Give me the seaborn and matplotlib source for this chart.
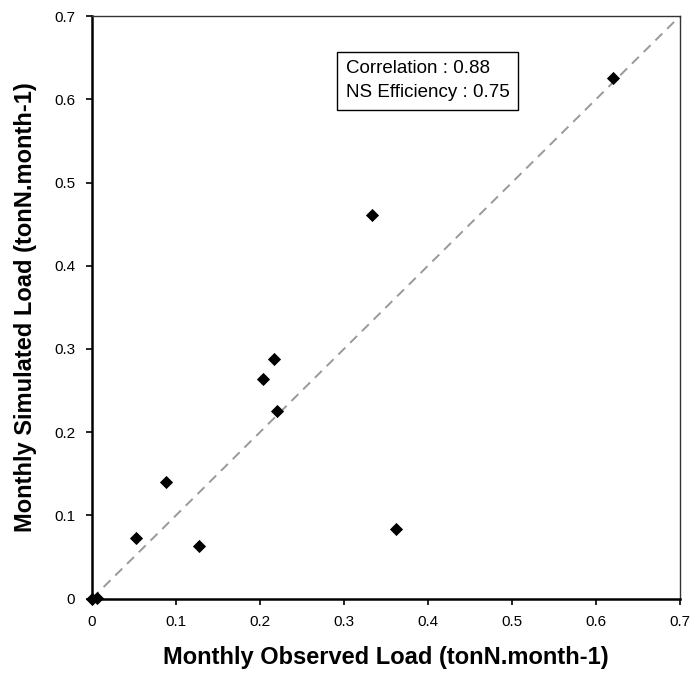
import matplotlib
matplotlib.use("Agg")
import matplotlib.pyplot as plt
import seaborn as sns
import pandas as pd

observed = [0.0, 0.0065, 0.0525, 0.0885, 0.128, 0.2037, 0.2164, 0.2203, 0.3336, 0.3625, 0.620]
simulated = [0.0, 0.0005, 0.0726, 0.140, 0.0637, 0.264, 0.2877, 0.226, 0.461, 0.0838, 0.625]
ticks = [0, 0.1, 0.2, 0.3, 0.4, 0.5, 0.6, 0.7]
tick_labels = ["0", "0.1", "0.2", "0.3", "0.4", "0.5", "0.6", "0.7"]

df = pd.DataFrame({"obs": observed, "sim": simulated})

sns.set_style("white")
plt.rcParams["font.family"] = ["Liberation Sans", "DejaVu Sans"]
plt.rcParams["text.color"] = "black"
plt.rcParams["axes.labelcolor"] = "black"

fig = plt.figure(figsize=(6.92, 6.76), dpi=100)
ax = fig.add_axes([0.1327, 0.1143, 0.8500, 0.8620])

ax.plot([0, 0.7], [0, 0.7], linestyle=(0, (5, 3.5)), color="#999999", linewidth=1.4, zorder=1)
sns.scatterplot(data=df, x="obs", y="sim", marker="D", s=45, color="black",
                edgecolor="black", linewidth=0, ax=ax, zorder=3, clip_on=False)

ax.set_xlim(0, 0.7)
ax.set_ylim(0, 0.7)
ax.set_xticks(ticks)
ax.set_xticklabels(tick_labels)
ax.set_yticks(ticks)
ax.set_yticklabels(tick_labels)
ax.tick_params(axis="both", direction="out", length=4, width=1.2, labelsize=11,
               color="black", labelcolor="black", bottom=True, left=True, pad=8)

for side in ["left", "bottom"]:
    ax.spines[side].set_color("black")
    ax.spines[side].set_linewidth(1.8)
for side in ["top", "right"]:
    ax.spines[side].set_color("#333333")
    ax.spines[side].set_linewidth(1.0)

ax.set_xlabel("Monthly Observed Load (tonN.month-1)", fontsize=17, fontweight="bold", labelpad=12)
ax.set_ylabel("Monthly Simulated Load (tonN.month-1)", fontsize=17, fontweight="bold", labelpad=12)

ax.text(0.302, 0.647, "Correlation : 0.88\nNS Efficiency : 0.75", fontsize=13.5,
        va="top", ha="left", linespacing=1.55,
        bbox=dict(boxstyle="square,pad=0.45", facecolor="white", edgecolor="black", linewidth=1.0))

fig.savefig("out.png", dpi=100)
